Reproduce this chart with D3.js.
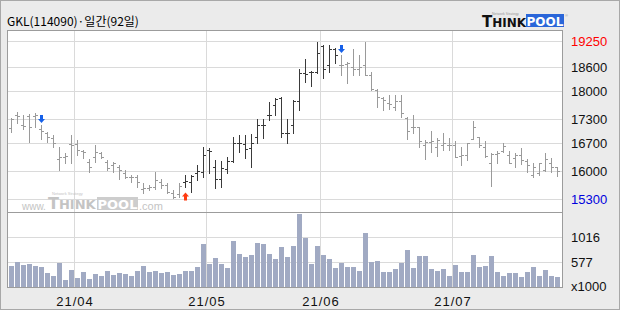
<!DOCTYPE html>
<html>
<head>
<meta charset="utf-8">
<script src="https://cdn.jsdelivr.net/npm/d3@7"></script>
<style>
    body { margin: 0; background: #ebebeb; }
    svg { display: block; }
</style>
</head>
<body>
<div id="chart"></div>
<script>
// Daily bars (won)
const opens  = [17070,17400,17150,17370,17370,17040,16940,16820,16290,16360,16670,16670,16510,16230,16360,16460,16230,16150,16110,15960,
                15860,15840,15540,15570,15590,15730,15650,15460,15420,15730,15730,15960,15980,16520,16090,15790,16040,16260,16710,16680,
                16570,16840,17150,17390,17650,17820,16940,17150,17760,18440,18480,18480,19120,18650,19040,18650,18670,18590,18540,18650,
                18400,18030,17820,17710,17610,17760,17320,17090,17090,16650,16730,16610,16650,16650,16650,16380,16400,16790,16840,16590,
                16190,16420,16510,16400,16320,16400,16260,15900,15940,16030,16210,16090];
const highs  = [17320,17480,17400,17420,17440,17150,16980,16900,16610,16440,16900,16780,16530,16290,16650,16480,16280,16230,16150,16030,
                15900,15900,15690,15650,15980,15790,15690,15530,15700,15900,15900,16150,16610,16570,16280,16260,16360,16860,16900,16900,
                16920,17290,17290,17730,17820,17860,17290,17780,18540,18790,18500,19220,19150,19150,19070,18900,18730,19040,18900,19220,
                18480,18040,17860,17900,17900,17900,17340,17400,17110,16780,17010,16820,16940,16820,16760,16610,16690,17260,16860,16760,
                16440,16510,16690,16510,16460,16570,16290,16190,16210,16440,16320,16110];
const lows   = [16980,17190,17040,16730,17110,16790,16730,16610,16030,16190,16190,16400,16320,15980,16230,16320,16030,15980,15790,15820,
                15730,15610,15440,15530,15540,15570,15440,15320,15360,15610,15480,15780,15860,15940,15570,15590,15940,16230,16480,16320,
                16090,16690,16820,17280,17400,16840,16690,16940,17530,18230,18130,18440,18330,18480,18690,18400,18190,18400,18400,18400,
                18030,17590,17530,17540,17530,17340,16790,16940,16590,16290,16480,16380,16530,16530,16340,16150,16280,16790,16590,16340,
                15630,16190,16480,16190,16090,16170,15980,15860,15900,16010,15980,15880];
const closes = [17290,17380,17130,17090,17400,17010,16840,16710,16340,16380,16650,16530,16480,16110,16480,16360,16070,16190,16030,15860,
                15840,15730,15570,15590,15780,15650,15480,15340,15620,15740,15880,15990,16400,16500,15790,16070,16260,16710,16690,16550,
                16690,17150,17160,17410,17790,16940,16960,17760,18440,18430,18480,18940,18540,19040,18900,18650,18710,18540,18610,18400,
                18040,17860,17780,17680,17760,17440,17010,17100,16760,16730,16760,16780,16690,16660,16340,16400,16690,17110,16650,16380,
                16420,16460,16620,16210,16400,16280,16150,16110,16190,16290,16090,16010];
// Volume, thousands of shares
const volumes = [500,582,529,547,500,483,389,336,565,266,442,301,407,284,371,336,424,354,389,371,
                 336,424,512,407,424,389,407,354,371,424,424,494,898,547,652,547,477,951,723,670,
                 705,916,898,723,635,846,670,863,1425,992,547,863,705,635,477,565,494,494,424,1091,
                 582,600,407,407,459,565,793,477,687,687,459,424,459,336,529,407,407,705,494,512,
                 687,407,336,389,389,319,407,494,336,442,336,307];

// Buy / sell signal arrows
const signals = [
    {i: 5, type: "sell"},
    {i: 29, type: "buy"},
    {i: 55, type: "sell"}
];

// Right axis ticks
const priceTicks = [19250, 18600, 18000, 17300, 16700, 16000, 15300];
const volTicks = [577, 1016];
const volDomain = [138, 1455];

// Trading days: 2021-03-17 onwards, weekends and KRX holidays skipped
const holidays = ["2021-05-05", "2021-05-19"];
const dayKey = d3.timeFormat("%Y-%m-%d");
const dates = [];
for (let d = new Date(2021, 2, 17); dates.length < opens.length; d = d3.timeDay.offset(d, 1)) {
    const wd = d.getDay();
    if (wd === 0 || wd === 6 || holidays.includes(dayKey(d))) continue;
    dates.push(d);
}

const width = 620, height = 310;
const svg = d3.select("#chart").append("svg")
    .attr("width", width)
    .attr("height", height)
    .attr("font-family", "'Liberation Sans Narrow', 'Liberation Sans', sans-serif");

const plot = {left: 7, right: 562, top: 30, split: 212, bottom: 287};

// outer frame
svg.append("rect")
    .attr("x", 0.5).attr("y", 0.5)
    .attr("width", width - 1).attr("height", height - 1)
    .attr("fill", "#ebebeb")
    .attr("stroke", "#a8a8a8");

svg.append("rect")
    .attr("x", plot.left).attr("y", plot.top)
    .attr("width", plot.right - plot.left).attr("height", plot.bottom - plot.top)
    .attr("fill", "#fff");

const x = d3.scaleBand()
    .domain(d3.range(opens.length))
    .range([8, 560]);

const y = d3.scaleLinear()
    .domain([15300, 19250])
    .range([199, 41]);

const yv = d3.scaleLinear()
    .domain(volDomain)
    .range([plot.bottom, plot.split]);

const px = v => Math.round(v) + 0.5;

// grid
const grid = svg.append("g").attr("stroke", "#dadada").attr("shape-rendering", "crispEdges");
grid.selectAll("line.p")
    .data(priceTicks)
    .join("line")
    .attr("x1", plot.left).attr("x2", plot.right)
    .attr("y1", d => px(y(d))).attr("y2", d => px(y(d)));
grid.selectAll("line.v")
    .data(volTicks)
    .join("line")
    .attr("class", "v")
    .attr("x1", plot.left).attr("x2", plot.right)
    .attr("y1", d => px(yv(d))).attr("y2", d => px(yv(d)));

const monthStarts = d3.range(1, dates.length).filter(i => dates[i].getMonth() !== dates[i - 1].getMonth());
grid.selectAll("line.m")
    .data(monthStarts)
    .join("line")
    .attr("class", "m")
    .attr("x1", i => x(i) + 0.5).attr("x2", i => x(i) + 0.5)
    .attr("y1", plot.top).attr("y2", plot.bottom);

// watermark
const wm = svg.append("g").attr("fill", "#c4c4c4");
wm.append("text").attr("x", 22).attr("y", 210).attr("font-size", 10)
    .attr("font-family", "'Liberation Sans', sans-serif").text("www.");
const wmThink = wm.append("text").attr("x", 48).attr("y", 209)
    .attr("font-family", "'DejaVu Sans', sans-serif").attr("font-weight", "bold");
wmThink.append("tspan").attr("font-size", 16).text("T");
wmThink.append("tspan").attr("font-size", 13).text("HINK");
wm.append("rect").attr("x", 97).attr("y", 197).attr("width", 41).attr("height", 13).attr("fill", "#cdcdcd");
wm.append("text").attr("x", 117.5).attr("y", 209).attr("text-anchor", "middle").attr("fill", "#fff")
    .attr("font-family", "'DejaVu Sans', sans-serif").attr("font-weight", "bold").attr("font-size", 13).text("POOL");
wm.append("text").attr("x", 139).attr("y", 210).attr("font-size", 11)
    .attr("font-family", "'Liberation Sans', sans-serif").text(".com");
wm.append("text").attr("x", 52).attr("y", 195).attr("font-size", 4)
    .attr("font-family", "'Liberation Sans', sans-serif").text("Network  Strategy");

// price bars
const isDark = i => i >= 29 && i < 55;
const bars = svg.append("g")
    .attr("shape-rendering", "crispEdges")
    .selectAll("g")
    .data(d3.range(opens.length))
    .join("g")
    .attr("stroke", i => isDark(i) ? "#3a3a3a" : "#9a9a9a");

const cx = i => Math.floor(x(i) + x.bandwidth() / 2) + 0.5;
bars.append("line")
    .attr("x1", cx).attr("x2", cx)
    .attr("y1", i => Math.round(y(highs[i]))).attr("y2", i => Math.round(y(lows[i])) + 1);
bars.append("line")
    .attr("x1", i => cx(i) - 2.5).attr("x2", cx)
    .attr("y1", i => px(y(opens[i]))).attr("y2", i => px(y(opens[i])));
bars.append("line")
    .attr("x1", cx).attr("x2", i => cx(i) + 2.5)
    .attr("y1", i => px(y(closes[i]))).attr("y2", i => px(y(closes[i])));

// signal arrows
const downArrow = "M0,0 L-3.5,-4 L-1.5,-4 L-1.5,-8 L1.5,-8 L1.5,-4 L3.5,-4 Z";
const upArrow = "M0,0 L-3.5,4 L-1.5,4 L-1.5,8 L1.5,8 L1.5,4 L3.5,4 Z";
svg.append("g")
    .selectAll("path")
    .data(signals)
    .join("path")
    .attr("d", d => d.type === "sell" ? downArrow : upArrow)
    .attr("fill", d => d.type === "sell" ? "#1660e8" : "#ff3a10")
    .attr("transform", d => d.type === "sell"
        ? `translate(${cx(d.i)},${y(highs[d.i]) - 2})`
        : `translate(${cx(d.i)},${y(lows[d.i]) + 6})`);

// volume bars
svg.append("g")
    .attr("fill", "#a1aac3")
    .attr("shape-rendering", "crispEdges")
    .selectAll("rect")
    .data(volumes)
    .join("rect")
    .attr("x", (d, i) => x(i) + 1)
    .attr("width", x.bandwidth() - 1)
    .attr("y", d => Math.round(yv(d)))
    .attr("height", d => plot.bottom - Math.round(yv(d)));

// plot frame
const frame = svg.append("g").attr("stroke", "#9c9c9c").attr("fill", "none").attr("shape-rendering", "crispEdges");
frame.append("rect")
    .attr("x", plot.left + 0.5).attr("y", plot.top + 0.5)
    .attr("width", plot.right - plot.left).attr("height", plot.bottom - plot.top);
frame.append("line")
    .attr("x1", plot.left).attr("x2", plot.right)
    .attr("y1", plot.split + 0.5).attr("y2", plot.split + 0.5);

// right axis labels
svg.append("g")
    .attr("font-size", 13)
    .selectAll("text")
    .data(priceTicks)
    .join("text")
    .attr("x", 571)
    .attr("y", d => y(d))
    .attr("dy", "0.36em")
    .attr("fill", (d, i) => i === 0 ? "#ff0000" : (i === priceTicks.length - 1 ? "#0000dd" : "#111"))
    .text(d => d);

svg.append("g")
    .attr("font-size", 13)
    .attr("fill", "#111")
    .selectAll("text")
    .data(volTicks.slice().reverse().concat(["x1000"]))
    .join("text")
    .attr("x", 571)
    .attr("y", (d, i) => i < volTicks.length ? yv(d) : plot.bottom - 1)
    .attr("dy", "0.36em")
    .text(d => d);

// month labels
const monthFmt = d3.timeFormat("%y/%m");
svg.append("g")
    .attr("font-size", 13)
    .attr("letter-spacing", 1)
    .attr("fill", "#111")
    .attr("text-anchor", "middle")
    .selectAll("text")
    .data(monthStarts)
    .join("text")
    .attr("x", i => x(i) + 1)
    .attr("y", 306)
    .text(i => monthFmt(dates[i]));

// title
svg.append("text")
    .attr("x", 7).attr("y", 26)
    .attr("font-family", "'Noto Sans CJK KR', sans-serif")
    .attr("font-size", 12)
    .attr("fill", "#000")
    .text("GKL(114090)·일간(92일)");

// logo
const logo = svg.append("g");
const lt = logo.append("text").attr("x", 482).attr("y", 27)
    .attr("font-family", "'DejaVu Sans', sans-serif").attr("font-weight", "bold").attr("fill", "#111");
lt.append("tspan").attr("font-size", 15).text("T");
lt.append("tspan").attr("font-size", 12).text("HINK");
logo.append("text").attr("x", 492).attr("y", 15).attr("font-size", 3.5).attr("fill", "#999")
    .attr("font-family", "'Liberation Sans', sans-serif").text("Network  Strategy");
logo.append("rect").attr("x", 526).attr("y", 14).attr("width", 38).attr("height", 13).attr("fill", "#2a66d9");
logo.append("text").attr("x", 545).attr("y", 26).attr("text-anchor", "middle")
    .attr("font-family", "'DejaVu Sans', sans-serif").attr("font-weight", "bold")
    .attr("font-size", 12).attr("fill", "#fff").text("POOL");
logo.append("text").attr("x", 565).attr("y", 17).attr("font-size", 4).attr("fill", "#999").text("®");
</script>
</body>
</html>
